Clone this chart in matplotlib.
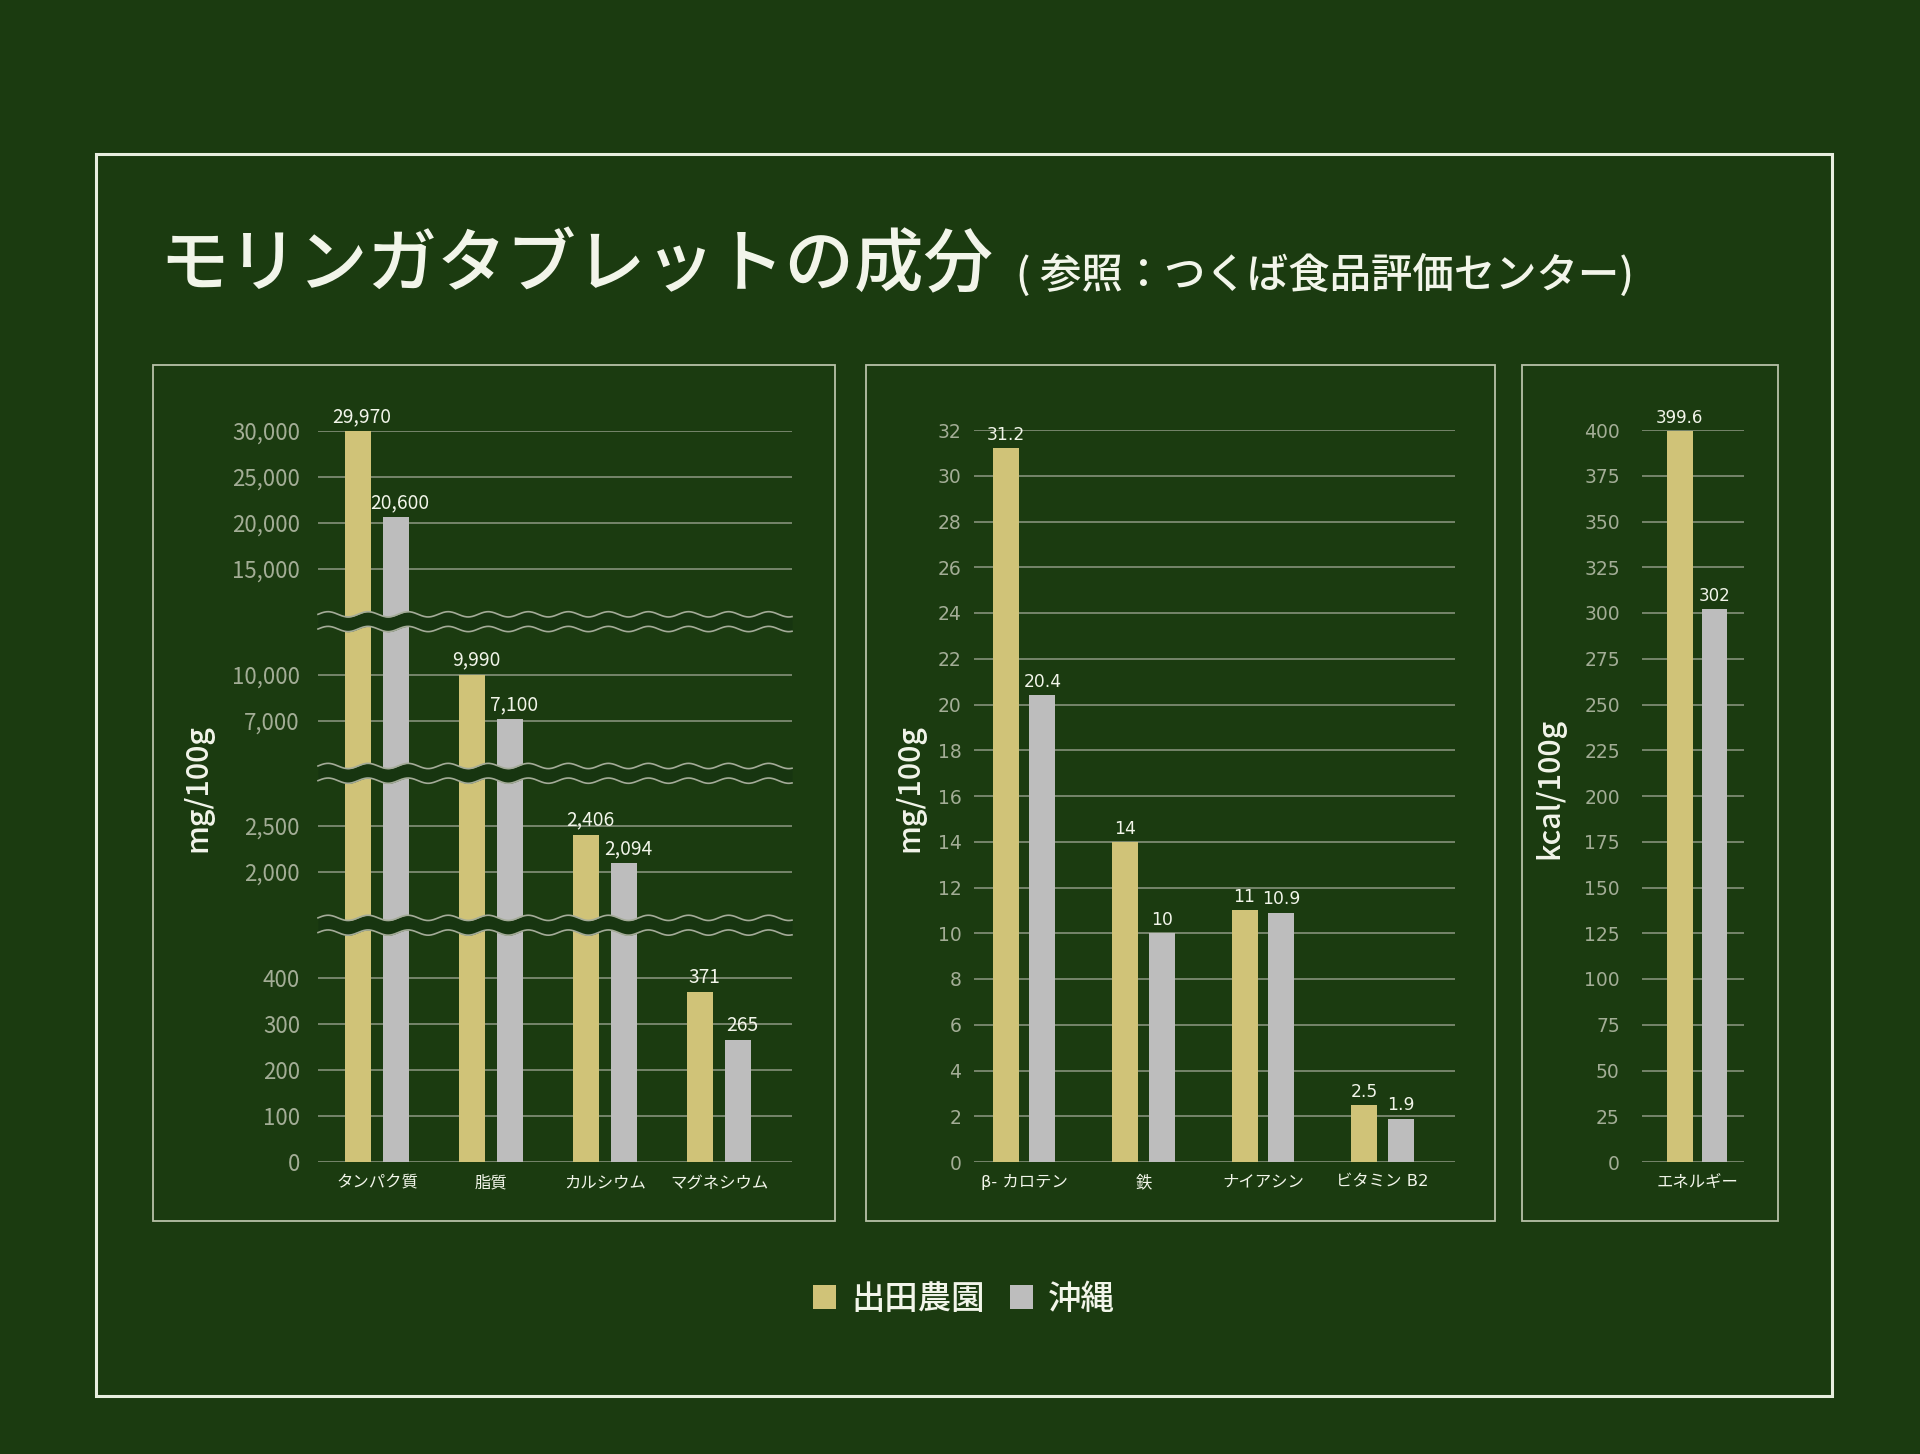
import matplotlib.pyplot as plt
import numpy as np

plt.rcParams['font.family'] = ['Noto Sans CJK JP', 'DejaVu Sans']

# ---- data ----
series = ['出田農園', '沖縄']

minerals = ['タンパク質', '脂質', 'カルシウム', 'マグネシウム']
minerals_deda = [29970, 9990, 2406, 371]
minerals_okinawa = [20600, 7100, 2094, 265]
minerals_ticks = [0, 100, 200, 300, 400, 2000, 2500, 7000, 10000,
                  15000, 20000, 25000, 30000]

vitamins = ['β- カロテン', '鉄', 'ナイアシン', 'ビタミン B2']
vitamins_deda = [31.2, 14, 11, 2.5]
vitamins_okinawa = [20.4, 10, 10.9, 1.9]
vitamins_ticks = list(range(0, 33, 2))

energy = ['エネルギー']
energy_deda = [399.6]
energy_okinawa = [302]
energy_ticks = list(range(0, 401, 25))

# broken axis of the first panel: value knots -> position (1 = one grid step)
knot_vals = [0, 400, 2000, 2500, 7000, 10000, 15000, 30000]
knot_pos = [0, 4, 6.32, 7.32, 9.62, 10.62, 12.93, 15.93]

# ---- style ----
W, H = 1920, 1454
bg = '#1b3b10'
gold = '#d0c378'
grey = '#bdbdbd'
grid_c = '#8e9884'
tick_c = '#a3ad96'
text_c = '#f2f5ea'
box_c = '#b8c2a8'


def fx(px):
    return px / W


def fy(py):
    return 1 - py / H


def fwd(v):
    return np.interp(v, knot_vals, knot_pos)


def inv(u):
    return np.interp(u, knot_pos, knot_vals)


fig = plt.figure(figsize=(W / 100, H / 100), dpi=100, facecolor=bg)

# outer frame and panel boxes
fig.patches.append(plt.Rectangle((fx(95.5), fy(1396)), (1832 - 95.5) / W, (1396 - 154) / H,
                                 transform=fig.transFigure, fill=False,
                                 edgecolor='#e8eedf', lw=2.2))
for x0, x1 in [(153, 835), (866, 1495), (1522, 1778)]:
    fig.patches.append(plt.Rectangle((fx(x0), fy(1221)), (x1 - x0) / W, (1221 - 365) / H,
                                     transform=fig.transFigure, fill=False,
                                     edgecolor=box_c, lw=1.3))

# title
fig.text(fx(159), fy(266), 'モリンガタブレットの成分', fontsize=50, color=text_c,
         ha='left', va='center', fontweight='medium')
fig.text(fx(1016), fy(275), '( 参照：つくば食品評価センター)', fontsize=29.8, color=text_c,
         ha='left', va='center', fontweight='medium')


def style(ax, ticks, ticklabels, pad, tsize, tfamily):
    ax.set_facecolor('none')
    for s in ax.spines.values():
        s.set_visible(False)
    ax.set_yticks(ticks)
    ax.set_yticklabels(ticklabels, fontsize=tsize, color=tick_c, family=tfamily)
    ax.tick_params(axis='y', length=0, pad=pad)
    ax.tick_params(axis='x', length=0, pad=9, labelcolor=text_c, labelsize=11.8)
    ax.yaxis.grid(True, color=grid_c, lw=1.1)
    ax.set_axisbelow(True)


def labels(ax, bars, vals, fmt, size, family, dx=0):
    for b, v in zip(bars, vals):
        ax.annotate(fmt(v), (b.get_x() + b.get_width() / 2, b.get_height()),
                    xytext=(dx, 3), textcoords='offset points', ha='center', va='bottom',
                    fontsize=size, color=text_c, family=family, zorder=5)


# ---- panel 1 : broken axis ----
ax1 = fig.add_axes([fx(318), fy(1162), (792 - 318) / W, (1162 - 431) / H])
ax1.set_yscale('function', functions=(fwd, inv))
x = np.arange(len(minerals))
b1 = ax1.bar(x - 0.167, minerals_deda, 0.23, color=gold, zorder=2, label=series[0])
b2 = ax1.bar(x + 0.167, minerals_okinawa, 0.23, color=grey, zorder=2, label=series[1])
ax1.set_ylim(0, 30000)
ax1.set_xlim(-0.518, 3.64)
ax1.set_xticks(x)
ax1.set_xticklabels(minerals)
style(ax1, minerals_ticks, [f'{t:,}' for t in minerals_ticks], 13, 16,
      ['Noto Sans CJK JP'])
labels(ax1, b1, minerals_deda, lambda v: f'{v:,}', 13.8, ['Noto Sans CJK JP'], dx=3)
labels(ax1, b2, minerals_okinawa, lambda v: f'{v:,}', 13.8, ['Noto Sans CJK JP'], dx=3)

# wavy break bands between the segments
top_u = fwd(30000)
wx = np.linspace(0, 1, 600)
wave = 0.0036 * np.sin(2 * np.pi * wx / 0.0845)
for i in range(1, len(knot_vals) - 1, 2):
    mid = (knot_pos[i] + knot_pos[i + 1]) / 2 / top_u
    lo = mid - 0.16 / top_u + wave
    hi = mid + 0.16 / top_u + wave
    ax1.fill_between(wx, lo, hi, color='#173510', transform=ax1.transAxes, zorder=3,
                     clip_on=False, lw=0)
    ax1.plot(wx, lo, color='#a4ab98', lw=1.2, transform=ax1.transAxes, zorder=4,
             clip_on=False)
    ax1.plot(wx, hi, color='#a4ab98', lw=1.2, transform=ax1.transAxes, zorder=4,
             clip_on=False)

# ---- panel 2 ----
ax2 = fig.add_axes([fx(974), fy(1162), (1455 - 974) / W, (1162 - 430) / H])
x = np.arange(len(vitamins))
c1 = ax2.bar(x - 0.154, vitamins_deda, 0.218, color=gold, zorder=2)
c2 = ax2.bar(x + 0.154, vitamins_okinawa, 0.218, color=grey, zorder=2)
ax2.set_ylim(0, 32)
ax2.set_xlim(-0.418, 3.607)
ax2.set_xticks(x)
ax2.set_xticklabels(vitamins, family=['DejaVu Sans', 'Noto Sans CJK JP'])
style(ax2, vitamins_ticks, [str(t) for t in vitamins_ticks], 9, 13.5, ['DejaVu Sans'])
labels(ax2, c1, vitamins_deda, lambda v: f'{v:g}', 12.3, ['DejaVu Sans'])
labels(ax2, c2, vitamins_okinawa, lambda v: f'{v:g}', 12.3, ['DejaVu Sans'])

# ---- panel 3 ----
ax3 = fig.add_axes([fx(1642), fy(1162), (1744 - 1642) / W, (1162 - 430) / H])
x = np.arange(len(energy))
d1 = ax3.bar(x - 0.147, energy_deda, 0.218, color=gold, zorder=2)
d2 = ax3.bar(x + 0.147, energy_okinawa, 0.218, color=grey, zorder=2)
ax3.set_ylim(0, 400)
ax3.set_xlim(-0.466, 0.396)
ax3.set_xticks(x)
ax3.set_xticklabels(energy)
style(ax3, energy_ticks, [str(t) for t in energy_ticks], 16, 13.5, ['DejaVu Sans'])
labels(ax3, d1, energy_deda, lambda v: f'{v:g}', 12, ['DejaVu Sans'])
labels(ax3, d2, energy_okinawa, lambda v: f'{v:g}', 12, ['DejaVu Sans'])

# axis titles
fig.text(fx(198), fy(788), 'mg/100g', rotation=90, fontsize=22, color=text_c,
         ha='center', va='center', fontweight='medium')
fig.text(fx(910), fy(788), 'mg/100g', rotation=90, fontsize=22, color=text_c,
         ha='center', va='center', fontweight='medium')
fig.text(fx(1550), fy(788), 'kcal/100g', rotation=90, fontsize=22, color=text_c,
         ha='center', va='center', fontweight='medium')

# legend
fig.legend(handles=[b1, b2], labels=series, loc='center', bbox_to_anchor=(fx(964), fy(1299)),
           ncol=2, frameon=False, handlelength=0.7, handleheight=0.7,
           handletextpad=0.45, columnspacing=0.75, labelcolor=text_c,
           prop={'weight': 'medium', 'size': 24})

fig.savefig('out.png', dpi=100, facecolor=bg)
